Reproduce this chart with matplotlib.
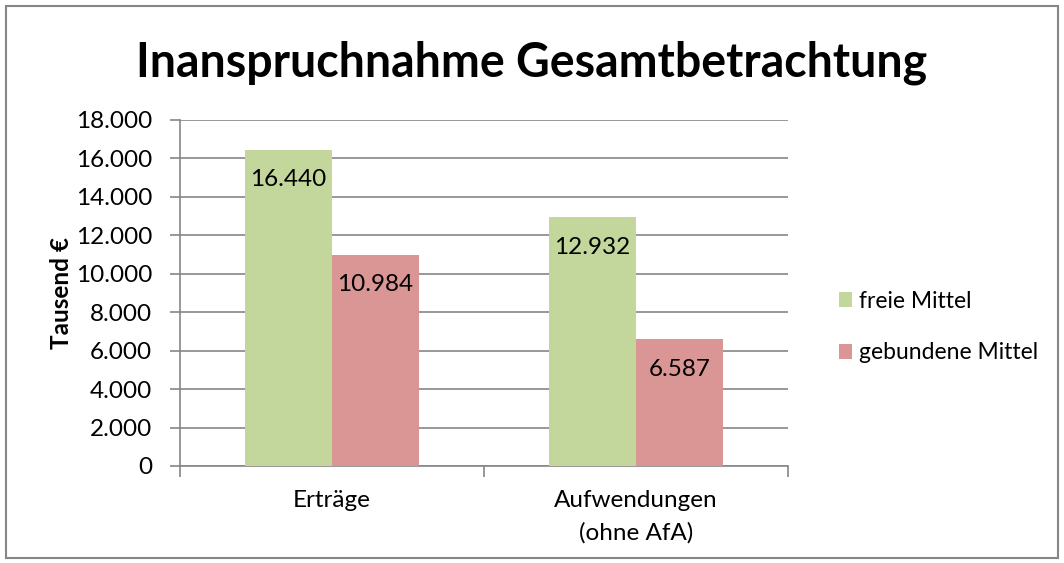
import matplotlib
matplotlib.use("Agg")
import matplotlib.pyplot as plt
from matplotlib.patches import Rectangle
import numpy as np

categories = ["Erträge", "Aufwendungen\n(ohne AfA)"]
series_names = ["freie Mittel", "gebundene Mittel"]
freie = [16440, 12932]
gebundene = [10984, 6587]
yticks = [0, 2000, 4000, 6000, 8000, 10000, 12000, 14000, 16000, 18000]
colors = ["#C3D69B", "#D99694"]

plt.rcParams['font.family'] = ['Lato', 'DejaVu Sans']

W, H = 1064, 563
FS = 17.5
fig = plt.figure(figsize=(W/100, H/100), dpi=100)
ax = fig.add_axes([180/W, 1-466/H, (788-180)/W, (466-120)/H])

def fmt(v):
    return f"{v:,.0f}".replace(",", ".")

x = np.arange(len(categories))
bw = 87/304
for i, (vals, c, name) in enumerate(zip([freie, gebundene], colors, series_names)):
    pos = x - bw/2 + i*bw
    ax.bar(pos, vals, width=bw, color=c, label=name, zorder=3)
    for p, v in zip(pos, vals):
        ax.text(p, v - 1560, fmt(v), ha='center', va='center', fontsize=FS, color='black', zorder=4)

ax.set_xlim(-0.5, 1.5)
ax.set_ylim(0, 18000)
ax.set_yticks(yticks)
ax.set_yticklabels([fmt(t) for t in yticks], fontsize=FS)
ax.yaxis.grid(True, color='#868686', linewidth=1.2, zorder=0)
ax.set_axisbelow(True)
for s in ['top', 'right']:
    ax.spines[s].set_visible(False)
for s in ['left', 'bottom']:
    ax.spines[s].set_color('#868686')
    ax.spines[s].set_linewidth(1.2)
ax.tick_params(axis='y', length=7, color='#868686', width=1.2, pad=13)
ax.set_xticks([-0.5, 0.5, 1.5], minor=False)
ax.set_xticklabels([])
ax.tick_params(axis='x', length=8, color='#868686', width=1.2, direction='out')
for xi, cat in zip(x, categories):
    xf = ax.transData.transform((xi, 0))[0] / W
    fig.text(xf, 1-490/H, cat, ha='center', va='top', fontsize=FS, linespacing=1.65)

ax.set_ylabel("Tausend €", fontsize=FS, fontweight='bold', labelpad=2)

fig.text(532/W, 1-63/H, "Inanspruchnahme Gesamtbetrachtung", ha='center', va='center',
         fontsize=33.5, fontweight='bold')

fig.legend(loc='center left', bbox_to_anchor=(818/W, 1-327/H), frameon=False,
           fontsize=16.5, handlelength=0.6, handleheight=0.6, handletextpad=0.3,
           labelspacing=1.35)

fig.patches.append(Rectangle((6/W, 5/H), 1052/W, 552/H, transform=fig.transFigure,
                             fill=False, edgecolor='#868686', linewidth=1.5))

fig.savefig("out.png", dpi=100)
